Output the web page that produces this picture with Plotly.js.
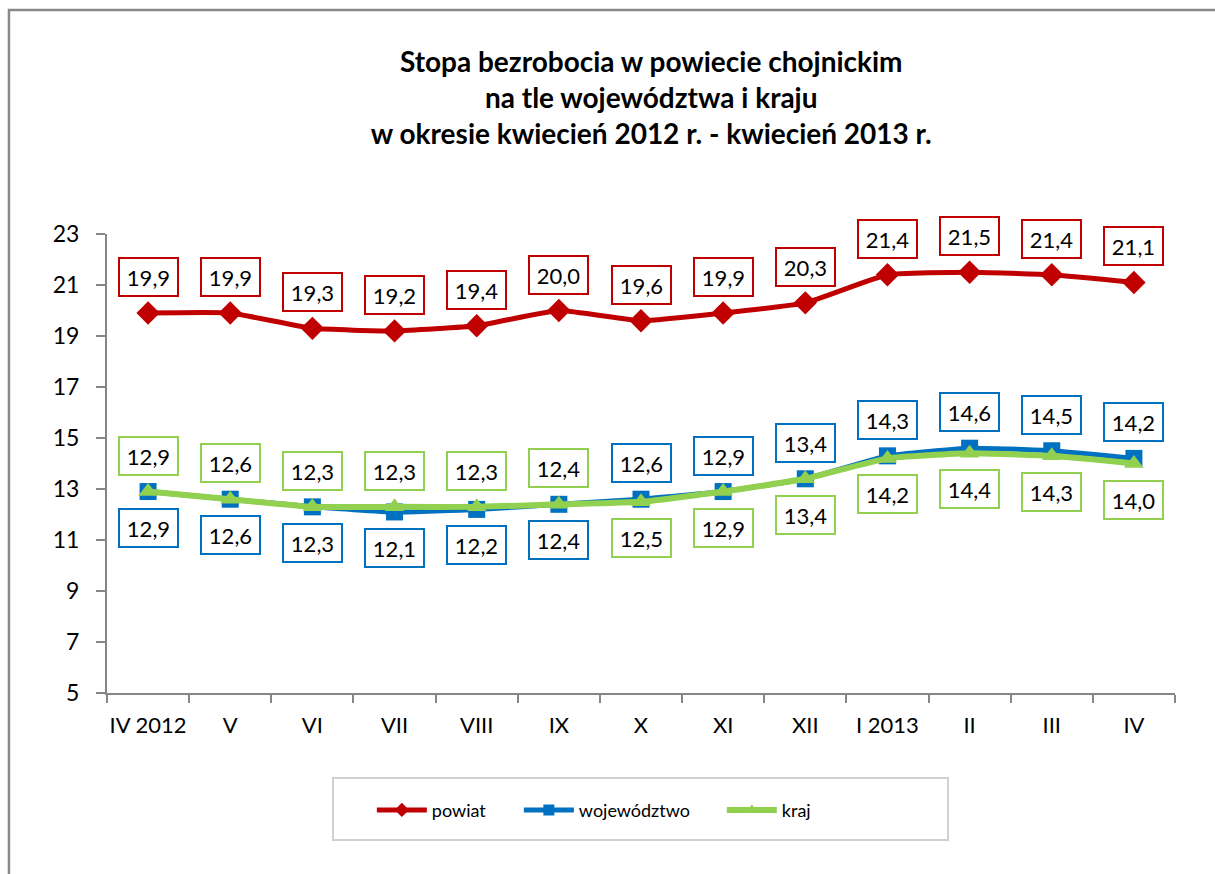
<!DOCTYPE html>
<html>
<head>
<meta charset="utf-8">
<script src="https://cdn.plot.ly/plotly-3.0.1.min.js"></script>
<style>html,body{margin:0;padding:0;background:#fff;}#chart{width:1215px;height:874px;}</style>
</head>
<body>
<div id="chart"></div>
<script>
// ---- data ----
const categories = ['IV 2012','V','VI','VII','VIII','IX','X','XI','XII','I 2013','II','III','IV'];
const powiat = [19.9,19.9,19.3,19.2,19.4,20.0,19.6,19.9,20.3,21.4,21.5,21.4,21.1];
const wojewodztwo = [12.9,12.6,12.3,12.1,12.2,12.4,12.6,12.9,13.4,14.3,14.6,14.5,14.2];
const kraj = [12.9,12.6,12.3,12.3,12.3,12.4,12.5,12.9,13.4,14.2,14.4,14.3,14.0];
// label placement: 1 = above point, -1 = below point
const powiatLabelSide = [1,1,1,1,1,1,1,1,1,1,1,1,1];
const wojLabelSide = [-1,-1,-1,-1,-1,-1,1,1,1,1,1,1,1];
const krajLabelSide = [1,1,1,1,1,1,-1,-1,-1,-1,-1,-1,-1];
const seriesNames = ['powiat','województwo','kraj'];
const titleText = 'Stopa bezrobocia w powiecie chojnickim<br>na tle województwa i kraju<br>w okresie kwiecień 2012 r. - kwiecień 2013 r.';

const RED = '#C00000', BLUE = '#0070C0', GREEN = '#92D050';
const FONT = 'Lato, "Noto Sans", sans-serif';

function fmt(v){ return v.toFixed(1).replace('.', ','); }

const traces = [
  {x: categories, y: powiat, name: seriesNames[0], type: 'scatter', mode: 'lines+markers', showlegend: false,
   line: {color: RED, width: 5, shape: 'spline', smoothing: 0.4},
   marker: {symbol: 'diamond', size: 18, color: RED}},
  {x: categories, y: wojewodztwo, name: seriesNames[1], type: 'scatter', mode: 'lines+markers', showlegend: false,
   line: {color: BLUE, width: 5, shape: 'spline', smoothing: 0.4},
   marker: {symbol: 'square', size: 17, color: BLUE}},
  {x: categories, y: kraj, name: seriesNames[2], type: 'scatter', mode: 'lines+markers', showlegend: false,
   line: {color: GREEN, width: 6, shape: 'spline', smoothing: 0.4},
   marker: {symbol: 'triangle-up', size: 17, color: GREEN}},
  // legend entries (no marks of their own, only the legend key)
  {x: [null], y: [null], name: seriesNames[0], type: 'scatter', mode: 'lines+markers', legendwidth: 82,
   line: {color: RED, width: 5}, marker: {symbol: 'diamond', size: 11, color: RED}},
  {x: [null], y: [null], name: seriesNames[1], type: 'scatter', mode: 'lines+markers', legendwidth: 138,
   line: {color: BLUE, width: 5}, marker: {symbol: 'square', size: 11, color: BLUE}},
  {x: [null], y: [null], name: seriesNames[2], type: 'scatter', mode: 'lines+markers',
   line: {color: GREEN, width: 6}, marker: {symbol: 'triangle-up', size: 11, color: GREEN}}
];

const annotations = [];
function addLabels(vals, sides, color){
  vals.forEach((v, i) => {
    annotations.push({
      x: categories[i], y: v, xref: 'x', yref: 'y',
      text: fmt(v), showarrow: false,
      yshift: 36 * sides[i],
      font: {family: FONT, size: 22, color: '#000'},
      bgcolor: '#fff', bordercolor: color, borderwidth: 2, borderpad: 4,
      width: 49, height: 28
    });
  });
}
addLabels(powiat, powiatLabelSide, RED);
addLabels(wojewodztwo, wojLabelSide, BLUE);
addLabels(kraj, krajLabelSide, GREEN);

const layout = {
  width: 1215, height: 874,
  margin: {l: 107, r: 40, t: 234, b: 181},
  paper_bgcolor: '#fff', plot_bgcolor: '#fff',
  font: {family: FONT, color: '#000'},
  title: {text: titleText, font: {family: FONT, size: 28, color: '#000', weight: 'bold'},
          x: 0.536, xanchor: 'center', y: 0.918, yanchor: 'top', yref: 'container'},
  xaxis: {type: 'category', range: [-0.5, 12.5], showline: true, linecolor: '#868686', linewidth: 2,
          ticks: 'outside', tickson: 'boundaries', ticklen: 8, tickcolor: '#868686', tickwidth: 1.5,
          ticklabelstandoff: 12, tickangle: 0,
          showgrid: false, zeroline: false, tickfont: {family: FONT, size: 22, color: '#000'}},
  yaxis: {range: [5, 23], tick0: 5, dtick: 2, showline: true, linecolor: '#868686', linewidth: 2,
          ticks: 'outside', ticklen: 9, tickcolor: '#868686', tickwidth: 1.5,
          ticklabelstandoff: 12,
          showgrid: false, zeroline: false, tickfont: {family: FONT, size: 23, color: '#000'}},
  showlegend: true,
  legend: {orientation: 'h', x: 0.248, xanchor: 'left', y: -0.215, yanchor: 'top',
           font: {family: FONT, size: 18, color: '#000'}, borderwidth: 0, bgcolor: 'rgba(0,0,0,0)',
           itemwidth: 50},
  annotations: annotations,
  shapes: [
    {type: 'rect', xref: 'paper', yref: 'paper', x0: 0.2116, x1: 0.7875, y0: -0.3203, y1: -0.1852,
     line: {color: '#d0d0d0', width: 2}, fillcolor: 'rgba(0,0,0,0)', layer: 'below'},
    {type: 'path', xref: 'paper', yref: 'paper', path: 'M -0.0918,-0.41 L -0.0918,1.488 L 1.045,1.488',
     line: {color: '#898989', width: 2.5}}
  ]
};

Plotly.newPlot('chart', traces, layout, {displayModeBar: false, responsive: false});
</script>
</body>
</html>
